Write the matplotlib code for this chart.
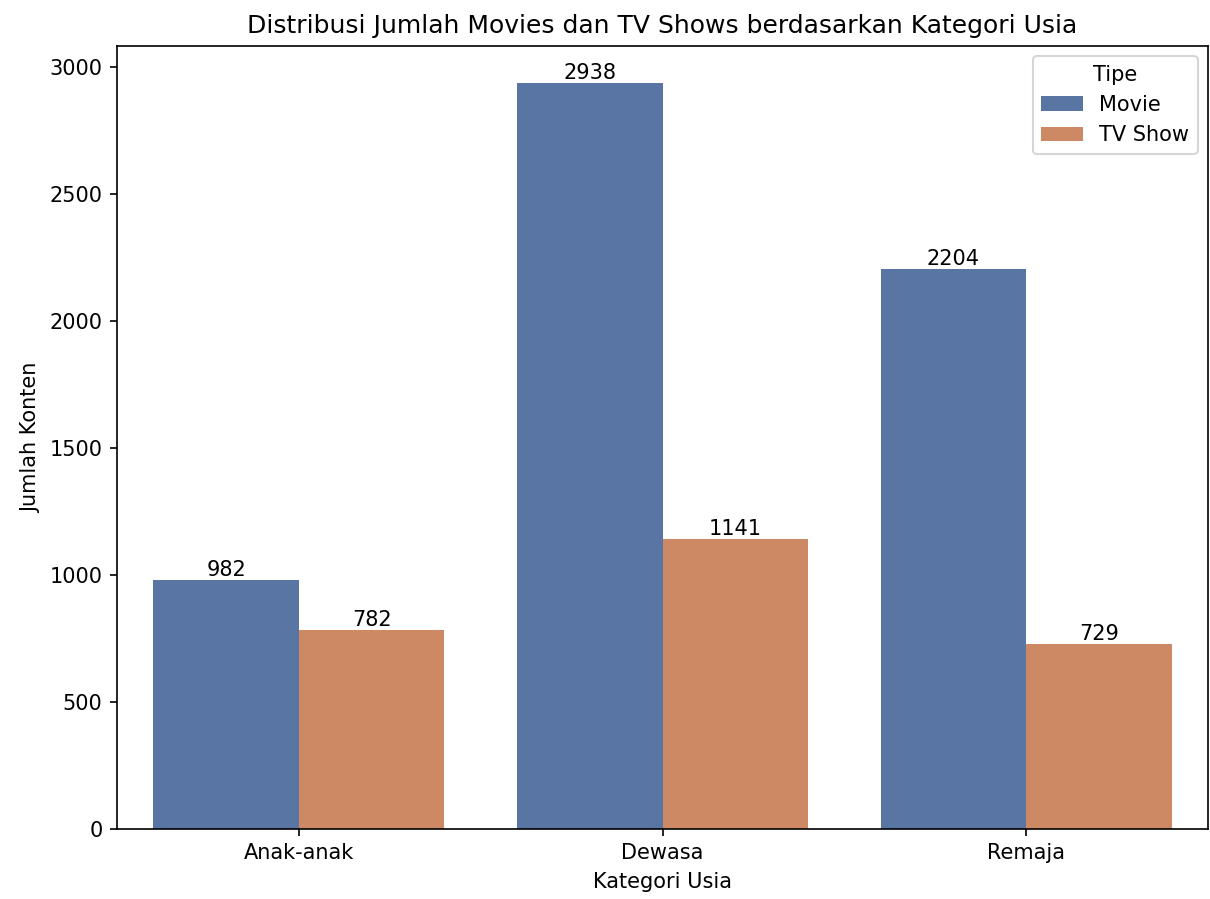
import matplotlib
matplotlib.use("Agg")
import matplotlib.pyplot as plt
import pandas as pd
import seaborn as sns

kategori = ["Anak-anak", "Dewasa", "Remaja"]
movie = [982, 2938, 2204]
tv_show = [782, 1141, 729]

df = pd.DataFrame({
    "Kategori": kategori * 2,
    "Tipe": ["Movie"] * 3 + ["TV Show"] * 3,
    "Jumlah": movie + tv_show,
})

fig = plt.figure(figsize=(1210 / 150, 899 / 150), dpi=150)
ax = fig.add_axes([0.0967, 0.078, 0.9017, 0.871])
sns.barplot(data=df, x="Kategori", y="Jumlah", hue="Tipe", palette="deep", ax=ax)
for c in ax.containers:
    ax.bar_label(c, fontsize=10)

ax.set_title("Distribusi Jumlah Movies dan TV Shows berdasarkan Kategori Usia", fontsize=12)
ax.set_xlabel("Kategori Usia")
ax.set_ylabel("Jumlah Konten")
ax.legend(title="Tipe", loc="upper right")
fig.savefig("out.png", dpi=150)
